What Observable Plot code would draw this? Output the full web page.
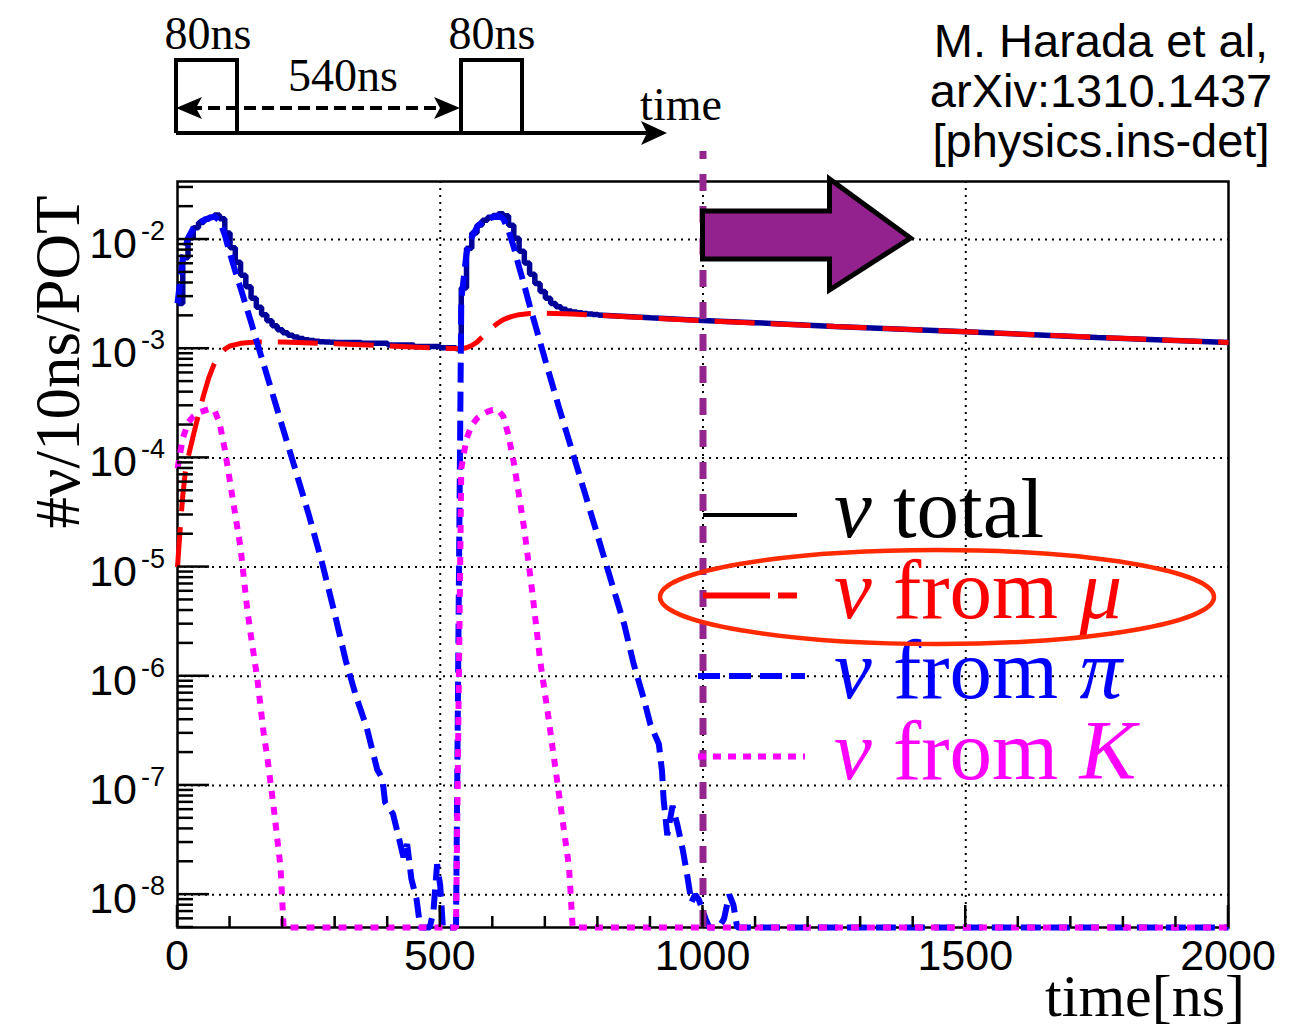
<!DOCTYPE html>
<html><head><meta charset="utf-8">
<script src="https://cdn.jsdelivr.net/npm/d3@7"></script>
<script src="https://cdn.jsdelivr.net/npm/@observablehq/plot@0.6"></script>
<style>body{margin:0;background:#fff} svg{display:block}</style>
</head><body><div id="chart"></div>
<script>
// ---- data ----
const totalBinTime = [0,10,20,30,40,50,60,70,80,90,100,110,120,130,140,150,160,170,180,190,200,210,220,230,240,250,260,270,280,290,300,350,400,450,500,530,
  540,550,560,570,580,590,600,610,620,630,640,650,660,670,680,690,700,710,720,730,740,750,760,770,780,790,800];
const totalBinValue = [2.6e-3,6.8e-3,1.04e-2,1.28e-2,1.43e-2,1.53e-2,1.6e-2,1.68e-2,1.55e-2,1.15e-2,8.4e-3,6.2e-3,4.7e-3,3.7e-3,2.9e-3,2.4e-3,2.05e-3,1.8e-3,1.62e-3,1.49e-3,1.4e-3,1.33e-3,1.28e-3,1.24e-3,1.21e-3,1.19e-3,1.17e-3,1.16e-3,1.15e-3,1.145e-3,1.14e-3,1.12e-3,1.08e-3,1.05e-3,1.02e-3,1.0e-3,
  3.6e-3,8.3e-3,1.15e-2,1.36e-2,1.5e-2,1.6e-2,1.66e-2,1.72e-2,1.65e-2,1.35e-2,1.03e-2,7.8e-3,6.1e-3,4.8e-3,3.95e-3,3.35e-3,2.9e-3,2.6e-3,2.42e-3,2.3e-3,2.22e-3,2.17e-3,2.13e-3,2.1e-3,2.08e-3,2.06e-3,2.04e-3];
const totalTailTime = [800,900,1000,1100,1250,1500,1750,2000];
const totalTailValue = [2.04e-3,1.92e-3,1.81e-3,1.73e-3,1.6e-3,1.43e-3,1.27e-3,1.14e-3];

const muTime = [0,5,10,15,20,30,40,50,60,70,80,90,100,120,150,200,300,400,500,540,550,560,570,580,590,600,610,620,635,650,670,700,750,800,900,1000,1250,1500,1750,2000];
const muValue = [1.0e-5,2.2e-5,4.5e-5,7.5e-5,1.0e-4,1.6e-4,2.5e-4,3.8e-4,5.5e-4,7.3e-4,8.8e-4,9.9e-4,1.06e-3,1.12e-3,1.15e-3,1.15e-3,1.11e-3,1.06e-3,1.01e-3,1.0e-3,1.02e-3,1.07e-3,1.15e-3,1.28e-3,1.43e-3,1.58e-3,1.72e-3,1.85e-3,1.97e-3,2.05e-3,2.1e-3,2.12e-3,2.08e-3,2.03e-3,1.91e-3,1.8e-3,1.6e-3,1.43e-3,1.27e-3,1.14e-3];

const piTime = [0,10,20,30,40,50,60,70,80,90,100,110,120,130,140,150,175,200,225,250,275,300,320,340,360,380,390,395,410,420,430,437,445,455,462,480,487,494,500,505,530,
  540,550,560,570,580,590,600,610,620,630,640,650,660,670,680,690,700,725,750,775,800,825,850,868,887,900,916,922,925,932,942,952,962,970,978,985,992,1005,1012,1030,1040,1050,1058,1065,2000];
const piValue = [2.6e-3,6.8e-3,1.03e-2,1.27e-2,1.42e-2,1.5e-2,1.57e-2,1.62e-2,1.5e-2,1.1e-2,7.4e-3,5.1e-3,3.6e-3,2.5e-3,1.75e-3,1.2e-3,4.8e-4,1.9e-4,7.6e-5,3.0e-5,1.1e-5,3.6e-6,1.4e-6,6.5e-7,3.4e-7,1.4e-7,1.15e-7,7e-8,5.5e-8,3.5e-8,2.2e-8,2.9e-8,1.4e-8,9e-9,0,0,7e-9,1.9e-8,1.2e-8,0,0,
  2.8e-3,7.5e-3,1.05e-2,1.3e-2,1.45e-2,1.55e-2,1.6e-2,1.65e-2,1.55e-2,1.2e-2,8.5e-3,5.6e-3,3.8e-3,2.5e-3,1.7e-3,1.15e-3,7.8e-4,3.0e-4,1.2e-4,4.8e-5,1.9e-5,7.5e-6,3.0e-6,1.3e-6,6.3e-7,3.6e-7,2.4e-7,1.35e-7,7.5e-8,3.5e-8,6.5e-8,4.2e-8,2.5e-8,1.5e-8,8.5e-9,1.0e-8,9e-9,6e-9,0,0,6e-9,1.0e-8,8e-9,0,0];

const kTime = [0,10,20,30,40,50,60,70,80,90,100,110,120,133,140,152,164,171,183,196,202,530,
  540,550,560,570,580,590,600,610,620,630,640,650,660,675,690,705,715,730,745,752,2000];
const kValue = [8e-5,1.5e-4,2.1e-4,2.4e-4,2.6e-4,2.7e-4,2.8e-4,2.75e-4,2.1e-4,1.2e-4,6e-5,3e-5,1.5e-5,4e-6,2.3e-6,9.4e-7,3e-7,1.8e-7,6.3e-8,1.8e-8,0,0,
  8e-5,1.5e-4,2.0e-4,2.3e-4,2.5e-4,2.65e-4,2.75e-4,2.75e-4,2.4e-4,1.6e-4,9e-5,4.5e-5,2.2e-5,6e-6,1.4e-6,4.5e-7,2e-7,6e-8,1.8e-8,0,0];

const xTicks = [0, 500, 1000, 1500, 2000];
const xGrid = [500, 1000, 1500];
const yExponents = [-8, -7, -6, -5, -4, -3, -2];
const yDecades = yExponents.map(e => Math.pow(10, e));
const yDomain = [5.0e-9, 3.4e-2];
const cutTime = 1000;

const legendPrefix = ["ν", "ν", "ν", "ν"];
const legendWords = ["total", "from", "from", "from"];
const legendParticles = ["", "μ", "π", "K"];
const legendColors = ["#000000", "#ff0000", "#0000ff", "#ff00ff"];
const legendDashes = [null, "67,8,19,100", "22,9", "8,7"];

const pulseLabels = ["80ns", "540ns", "80ns", "time"];
const citation = ["M. Harada et al,", "arXiv:1310.1437", "[physics.ins-det]"];

// ---- chart ----
const rows = (ts, vs) => ts.map((t, i) => ({t, v: Math.max(vs[i], yDomain[0])}));
const lineOpts = {x: "t", y: "v", strokeLinecap: "butt", strokeLinejoin: "miter"};

const chart = Plot.plot({
  width: 1294, height: 1031,
  marginLeft: 177, marginRight: 66, marginTop: 181, marginBottom: 104,
  x: {domain: [0, 2000], axis: null},
  y: {type: "log", domain: yDomain, axis: null},
  style: {background: "white", overflow: "visible"},
  marks: [
    Plot.ruleY(yDecades, {stroke: "#000", strokeWidth: 2, strokeDasharray: "2,5"}),
    Plot.ruleX(xGrid, {stroke: "#000", strokeWidth: 2, strokeDasharray: "2,5"}),
    Plot.frame({stroke: "#000", strokeWidth: 2.5}),
    Plot.line(rows(totalBinTime, totalBinValue), {...lineOpts, curve: "step-after", stroke: "#000099", strokeWidth: 5.5}),
    Plot.line(rows(totalTailTime, totalTailValue), {...lineOpts, stroke: "#000099", strokeWidth: 5.5}),
    Plot.line(rows(muTime, muValue), {...lineOpts, stroke: "#ff0000", strokeWidth: 5, strokeDasharray: "40,16"}),
    Plot.line(rows(piTime, piValue), {...lineOpts, stroke: "#0000ff", strokeWidth: 6, strokeDasharray: "20,9"}),
    Plot.line(rows(kTime, kValue), {...lineOpts, stroke: "#ff00ff", strokeWidth: 6, strokeDasharray: "8,8"}),
    Plot.ruleX([cutTime], {y1: yDomain[0], y2: 0.064, stroke: "#93278F", strokeWidth: 7, strokeDasharray: "17,15"})
  ]
});
document.getElementById("chart").appendChild(chart);

const svg = d3.select(chart);
const xs = chart.scale("x"), ys = chart.scale("y");
const X = v => xs.apply(v), Y = v => ys.apply(v);
const x0 = X(0), yb = Y(yDomain[0]);
const serif = "'Liberation Serif', 'Times New Roman', serif";
const sans = "'Liberation Sans', Arial, Helvetica, sans-serif";

// ticks
const g = svg.append("g").attr("stroke", "#000").attr("stroke-width", 2.5);
yDecades.forEach(v => g.append("line").attr("x1", x0).attr("x2", x0 + 32).attr("y1", Y(v)).attr("y2", Y(v)));
for (let e = -9; e <= -2; e++) for (let m = 2; m <= 9; m++) {
  const v = m * Math.pow(10, e);
  if (v >= yDomain[0] && v <= yDomain[1]) g.append("line").attr("x1", x0).attr("x2", x0 + 16).attr("y1", Y(v)).attr("y2", Y(v));
}
xTicks.forEach(v => g.append("line").attr("x1", X(v)).attr("x2", X(v)).attr("y1", yb).attr("y2", yb - 22));
d3.range(100, 2000, 100).filter(v => v % 500).forEach(v => g.append("line").attr("x1", X(v)).attr("x2", X(v)).attr("y1", yb).attr("y2", yb - 11));

// tick labels
xTicks.forEach(v => svg.append("text").attr("x", X(v)).attr("y", yb + 43).attr("text-anchor", "middle")
  .attr("font-family", sans).attr("font-size", 43).attr("fill", "#000").text(String(v)));
yExponents.forEach((e, i) => {
  const ty = Y(yDecades[i]);
  svg.append("text").attr("x", x0 - 40).attr("y", ty + 19).attr("text-anchor", "end")
    .attr("font-family", sans).attr("font-size", 43).attr("fill", "#000").text("10");
  svg.append("text").attr("x", x0 - 12).attr("y", ty + 1).attr("text-anchor", "end")
    .attr("font-family", sans).attr("font-size", 27).attr("fill", "#000").text(String(e));
});

// axis titles
svg.append("text").attr("transform", "translate(79,362) rotate(-90)").attr("text-anchor", "middle")
  .attr("font-family", serif).attr("font-size", 63).attr("fill", "#000").text("#ν/10ns/POT");
svg.append("text").attr("x", 1245).attr("y", 1016).attr("text-anchor", "end")
  .attr("font-family", serif).attr("font-size", 60).attr("fill", "#000").text("time[ns]");

// arrow after the cut
const ax = X(cutTime), ay = Y(1e-2);
svg.append("polygon").attr("points", [
  [ax, ay - 28], [ax + 127, ay - 28], [ax + 127, ay - 60], [ax + 208, ay - 1],
  [ax + 127, ay + 51], [ax + 127, ay + 20], [ax, ay + 20]].map(p => p.join(",")).join(" "))
  .attr("fill", "#93228F").attr("stroke", "#000").attr("stroke-width", 5).attr("stroke-linejoin", "miter");

// legend
legendWords.forEach((w, i) => {
  const ly = 515 + i * 80.5;
  const path = svg.append("line").attr("x1", i < 2 ? 703 : 698).attr("x2", i < 2 ? 797 : 805).attr("y1", ly).attr("y2", ly)
    .attr("stroke", legendColors[i]).attr("stroke-width", i === 0 ? 4 : 6);
  if (legendDashes[i]) path.attr("stroke-dasharray", legendDashes[i]);
  const t = svg.append("text").attr("x", 834).attr("y", ly + 22).attr("text-anchor", "start")
    .attr("font-family", serif).attr("font-size", 85).attr("fill", legendColors[i]);
  t.append("tspan").attr("font-style", "italic").text(legendPrefix[i]);
  t.append("tspan").text(" " + w + (legendParticles[i] ? " " : ""));
  if (legendParticles[i]) t.append("tspan").attr("font-style", "italic").text(legendParticles[i]);
});
svg.append("ellipse").attr("cx", 937).attr("cy", 597).attr("rx", 277).attr("ry", 47)
  .attr("fill", "none").attr("stroke", "#ff2a00").attr("stroke-width", 4.5);

// timing diagram
const td = svg.append("g").attr("stroke", "#000").attr("stroke-width", 4).attr("fill", "none");
td.append("path").attr("d", "M176,133 H650 M176,133 V60 H237 V133 M461,133 V60 H522 V133");
td.append("path").attr("d", "M190,108 H445").attr("stroke-dasharray", "12,6");
svg.append("polygon").attr("points", "641,121 667,133 641,145 647,133").attr("fill", "#000");
svg.append("polygon").attr("points", "176,108 202,97 196,108 202,119").attr("fill", "#000");
svg.append("polygon").attr("points", "460,108 434,97 440,108 434,119").attr("fill", "#000");
[[208, 49], [343, 91], [492, 49], [681, 120]].forEach((p, i) =>
  svg.append("text").attr("x", p[0]).attr("y", p[1]).attr("text-anchor", "middle")
    .attr("font-family", serif).attr("font-size", 46).attr("fill", "#000").text(pulseLabels[i]));

// citation
citation.forEach((c, i) => svg.append("text").attr("x", 1101).attr("y", 57 + i * 50).attr("text-anchor", "middle")
  .attr("font-family", sans).attr("font-size", 47).attr("fill", "#000").text(c));
</script>
</body></html>
